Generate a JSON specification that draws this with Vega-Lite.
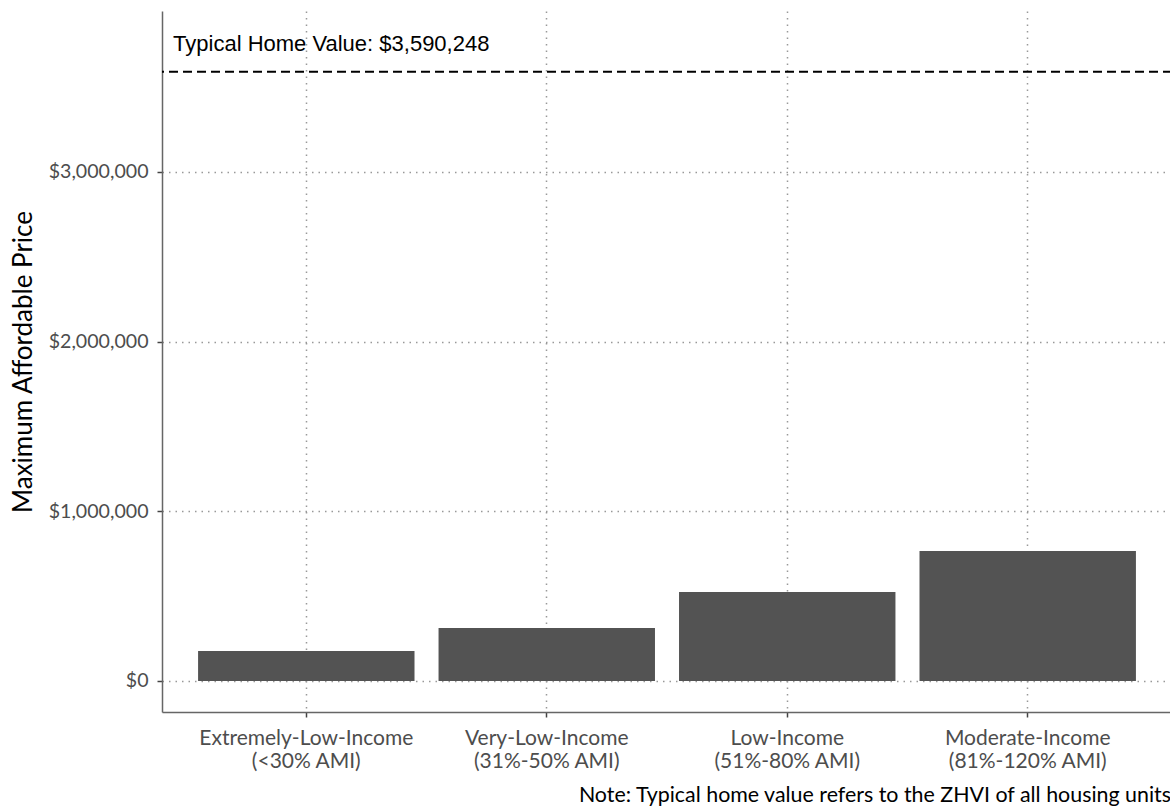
{
  "$schema": "https://vega.github.io/schema/vega-lite/v6.json",
  "width": 1010,
  "height": 701,
  "autosize": {"type": "none"},
  "padding": {"left": 162, "top": 11, "right": 0, "bottom": 96},
  "background": "white",
  "config": {"view": {"stroke": null}, "font": "Lato"},
  "title": {
    "text": "Note: Typical home value refers to the ZHVI of all housing units",
    "orient": "bottom",
    "anchor": "end",
    "fontSize": 21.4,
    "fontWeight": "normal",
    "color": "black",
    "font": "Lato",
    "offset": 14,
    "dx": -2
  },
  "data": {
    "values": [
      {"category": "Extremely-Low-Income (<30% AMI)", "price": 177000},
      {"category": "Very-Low-Income (31%-50% AMI)", "price": 312000},
      {"category": "Low-Income (51%-80% AMI)", "price": 524000},
      {"category": "Moderate-Income (81%-120% AMI)", "price": 766000}
    ]
  },
  "layer": [
    {
      "mark": {"type": "bar", "color": "#535353"},
      "encoding": {
        "x": {
          "field": "category",
          "type": "nominal",
          "sort": null,
          "scale": {
            "domain": ["Extremely-Low-Income (<30% AMI)", "Very-Low-Income (31%-50% AMI)", "Low-Income (51%-80% AMI)", "Moderate-Income (81%-120% AMI)"],
            "paddingInner": 0.1,
            "paddingOuter": 0.15
          },
          "axis": {
            "title": null,
            "labelAngle": 0,
            "labelLimit": 0,
            "labelExpr": "[slice(datum.label, 0, indexof(datum.label, ' (')), slice(datum.label, indexof(datum.label, ' (') + 1)]",
            "labelFontSize": 21,
            "labelColor": "#4d4d4d",
            "labelLineHeight": 23,
            "labelPadding": 10,
            "tickSize": 5,
            "tickColor": "#444",
            "tickWidth": 1.5,
            "domainColor": "#666",
            "domainWidth": 1.5,
            "grid": true,
            "gridColor": "#999",
            "gridDash": [1.5, 5],
            "gridWidth": 1.5,
            "bandPosition": 0.5
          }
        },
        "y": {
          "field": "price",
          "type": "quantitative",
          "scale": {"domain": [-183000, 3948000], "nice": false, "zero": false},
          "axis": {
            "title": "Maximum Affordable Price",
            "titleFontSize": 26,
            "titleFontWeight": "normal",
            "titleColor": "black",
            "titlePadding": 12,
            "values": [0, 1000000, 2000000, 3000000],
            "format": "$,.0f",
            "labelFontSize": 19.6,
            "labelColor": "#4d4d4d",
            "labelPadding": 9,
            "tickSize": 5,
            "tickColor": "#444",
            "tickWidth": 1.5,
            "domainColor": "#666",
            "domainWidth": 1.5,
            "grid": true,
            "gridColor": "#999",
            "gridDash": [1.5, 5],
            "gridWidth": 1.5
          }
        }
      }
    },
    {
      "data": {"values": [{"zhvi": 3590248}]},
      "mark": {"type": "rule", "color": "black", "strokeDash": [9, 5], "strokeWidth": 2},
      "encoding": {"y": {"field": "zhvi", "type": "quantitative"}}
    },
    {
      "data": {"values": [{"label": "Typical Home Value: $3,590,248", "pos": 3754000, "category": "Extremely-Low-Income (<30% AMI)"}]},
      "mark": {"type": "text", "font": "Liberation Sans", "fontSize": 22, "color": "black", "align": "left", "baseline": "middle", "dx": -25},
      "encoding": {
        "x": {"field": "category", "type": "nominal", "bandPosition": 0},
        "y": {"field": "pos", "type": "quantitative"},
        "text": {"field": "label"}
      }
    }
  ]
}
